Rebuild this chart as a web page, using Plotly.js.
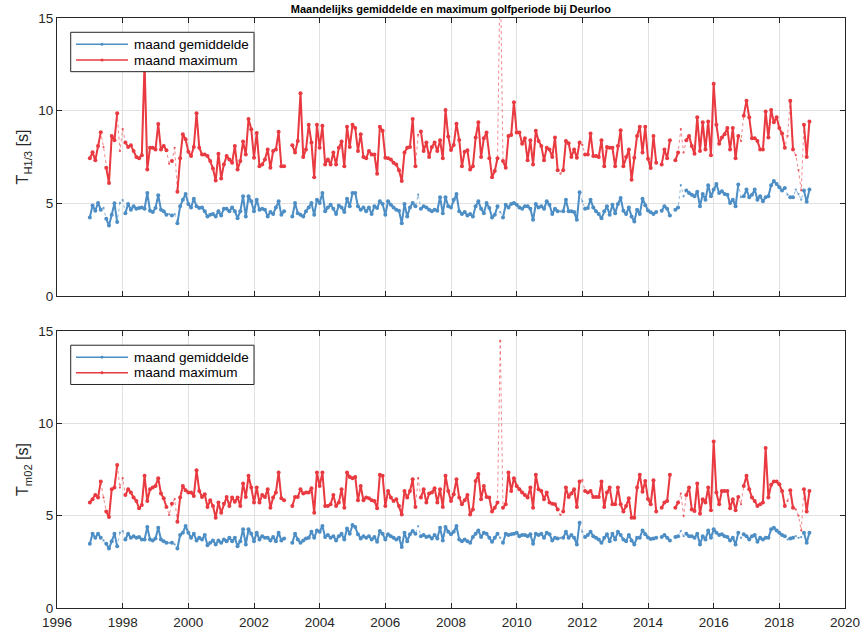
<!DOCTYPE html>
<html>
<head>
<meta charset="utf-8">
<script src="https://cdn.plot.ly/plotly-3.0.1.min.js"></script>
<style>html,body{margin:0;padding:0;background:#fff;}#chart{width:863px;height:631px;}</style>
</head>
<body>
<div id="chart"></div>
<script>
// Monthly series, Jan 1997 .. Dec 2018 (null = no data)
const startYear = 1997;

const hsMean = [4.24,4.89,4.6,5.02,4.66,4.75,4.17,3.8,4.38,5.0,3.99,5.02,5.18,4.47,4.96,4.66,4.84,4.71,4.75,4.78,
4.71,5.56,4.6,4.53,4.75,5.43,4.66,4.57,4.38,4.42,4.35,4.42,3.93,4.84,5.2,5.5,4.96,4.78,5.25,4.84,
4.75,4.78,4.57,4.29,4.38,4.42,4.29,4.57,4.35,4.71,4.71,4.57,4.78,4.57,4.2,4.57,5.38,4.29,5.38,5.11,
4.57,5.2,4.66,4.71,4.66,4.29,4.53,4.42,4.78,5.11,4.38,4.57,null,null,4.29,5.02,4.47,4.38,4.29,4.57,
4.78,5.02,4.38,5.2,5.02,5.56,4.57,4.78,4.93,4.71,4.42,4.89,4.78,4.53,5.25,4.84,5.56,5.56,4.84,4.66,
4.78,4.57,4.78,4.42,4.84,4.75,5.11,4.96,4.38,5.11,4.93,4.78,4.66,4.6,3.93,4.96,4.29,4.78,5.02,4.84,
5.47,4.71,4.84,4.78,4.66,4.57,4.66,4.6,5.33,4.47,5.33,4.84,4.78,5.2,5.5,4.57,4.42,4.53,4.35,4.42,
4.29,4.84,5.11,4.71,4.47,5.02,4.75,4.24,4.38,4.84,4.53,4.24,4.93,4.78,4.96,5.02,4.93,4.78,4.71,4.84,
4.84,4.71,4.11,4.96,4.78,4.84,4.71,5.11,4.93,4.42,4.71,4.57,4.57,4.57,5.2,4.57,4.57,4.53,4.11,5.6,
5.11,4.71,4.75,5.2,4.78,4.57,4.42,4.2,4.57,4.84,4.38,4.93,4.47,4.96,5.29,4.6,4.42,4.78,4.29,4.02,
4.66,4.42,5.25,4.9,4.62,4.52,4.42,4.53,null,4.6,4.84,4.71,4.35,null,4.66,4.78,5.98,5.38,5.69,5.56,
5.47,5.38,5.62,4.84,5.5,5.2,5.98,5.38,5.74,6.05,5.56,5.65,5.5,5.47,5.02,5.2,4.84,6.01,5.33,5.38,
5.74,5.33,5.47,5.74,5.2,5.38,5.11,5.33,5.38,5.98,6.2,6.05,5.87,5.69,5.83,5.47,5.33,5.33,5.74,5.5,
5.2,5.69,5.08,5.74];

const hsMax = [7.43,7.75,7.32,8.1,8.84,8.04,6.92,6.1,8.64,8.4,9.86,7.83,9.0,8.28,8.04,8.13,7.83,7.5,7.43,7.6,
12.6,6.83,8.0,8.0,7.9,9.28,7.9,8.1,7.86,7.14,7.28,8.0,5.62,7.43,8.73,8.46,7.79,7.55,8.04,9.86,
8.0,7.64,7.64,7.55,7.28,6.88,6.23,7.68,6.34,7.1,7.55,7.37,7.19,8.1,6.83,7.28,8.33,7.64,9.55,9.0,
7.46,8.8,7.0,7.1,7.37,7.9,6.92,7.83,7.9,8.86,7.0,7.0,null,null,8.13,7.74,8.37,10.94,7.5,7.9,
9.24,8.28,6.41,9.24,8.0,9.18,7.1,7.37,7.1,7.74,7.1,8.0,8.33,7.0,9.13,8.04,9.24,9.06,7.83,8.73,
7.5,7.43,7.83,7.64,7.64,6.59,9.13,8.91,7.46,7.43,7.37,7.19,7.1,6.78,6.2,7.74,8.0,8.04,9.55,7.0,
8.7,8.88,7.83,8.28,7.5,8.04,8.28,7.83,8.4,7.43,10.04,8.6,7.88,8.15,9.3,8.42,7.0,7.79,7.86,6.83,
7.0,8.55,9.37,7.5,8.51,8.82,7.43,6.41,6.74,7.43,18,7.28,6.92,8.64,8.69,10.46,8.82,8.82,8.22,8.51,
7.32,8.4,7.1,8.91,8.37,8.1,7.32,8.0,7.9,7.5,8.55,6.78,6.6,6.78,8.37,8.24,7.5,7.9,7.46,8.28,
8.15,7.64,7.64,8.77,7.55,7.55,7.5,8.4,7.0,8.04,8.0,8.0,7.0,8.1,8.95,7.0,7.5,7.9,6.27,7.46,
8.64,9.13,7.74,9.13,7.4,6.9,8.64,7.19,null,7.1,7.9,7.43,8.4,null,7.32,7.74,9.0,7.74,8.4,8.64,
8.1,7.68,9.64,7.83,9.37,7.9,9.42,7.6,11.45,9.24,8.22,8.55,8.73,9.06,7.9,9.06,7.43,8.64,8.37,9.73,
10.54,9.64,8.51,8.51,8.37,7.9,7.9,9.96,8.55,10.04,9.37,9.64,9.06,8.77,8.0,8.64,10.54,7.9,7.6,6.8,
5.7,9.24,7.5,9.42];

const tmMean = [3.48,4.02,3.8,4.02,3.8,3.66,3.48,3.22,3.62,4.02,3.35,4.08,4.17,3.71,4.02,3.8,3.89,3.8,3.84,3.71,
3.71,4.38,3.71,3.66,3.77,4.35,3.71,3.62,3.53,3.53,3.53,3.44,3.22,3.95,4.08,4.44,4.08,3.8,4.02,3.66,
3.8,3.71,3.95,3.4,3.53,3.66,3.44,3.66,3.53,3.71,3.62,3.8,3.62,3.8,3.35,3.62,4.26,3.44,4.26,4.02,
3.62,4.08,3.71,3.89,3.8,3.8,3.66,3.84,3.62,4.08,3.66,3.77,null,null,3.53,4.02,3.71,3.53,3.66,3.77,
3.8,4.13,3.8,4.2,4.13,4.44,3.84,3.95,3.8,3.89,3.66,3.89,4.02,3.71,4.31,4.02,4.49,4.38,3.99,3.77,
3.89,3.8,3.89,3.71,3.84,3.59,4.17,4.02,3.71,3.99,3.89,3.8,3.71,3.8,3.3,4.08,3.62,3.99,4.17,4.02,
4.44,3.89,3.95,3.84,3.89,3.77,3.95,3.77,4.35,3.66,4.38,4.13,3.99,4.13,4.44,3.71,3.62,3.71,3.62,3.53,
3.84,4.02,4.2,3.84,4.08,4.02,3.8,3.59,3.8,4.02,3.8,3.53,4.02,3.95,3.99,4.02,4.08,3.89,3.95,3.95,
3.89,3.99,3.48,4.02,3.95,4.02,3.8,4.08,3.99,3.66,3.8,3.77,3.8,3.8,4.13,3.8,3.95,3.8,3.44,4.62,
4.13,3.84,3.95,4.13,3.89,3.8,3.71,3.53,3.8,3.99,3.62,4.02,3.71,4.13,3.95,3.71,3.62,3.95,3.66,3.44,
3.8,3.8,4.2,3.99,3.82,3.74,3.77,3.8,null,3.84,3.95,3.8,3.66,null,3.84,3.89,4.17,3.89,4.02,3.89,
3.89,3.8,4.02,3.44,3.89,3.71,4.2,3.8,4.26,4.08,3.95,3.99,3.89,3.84,3.66,3.8,3.44,4.08,3.8,3.99,
3.89,3.71,3.89,3.95,3.59,3.8,3.71,3.8,3.8,4.26,4.35,4.2,4.08,3.95,3.89,3.71,3.77,3.8,3.89,3.8,
3.84,4.08,3.53,4.08];

const tmMax = [5.71,5.89,6.12,5.98,6.85,5.98,5.22,4.93,6.43,6.52,7.75,6.52,7.03,6.12,6.43,6.25,5.98,5.8,5.4,5.58,
7.16,5.8,6.43,6.52,6.61,7.03,6.2,5.94,5.47,5.04,5.65,5.89,4.67,5.98,6.61,6.38,6.25,6.25,6.07,7.46,
6.34,6.01,6.16,5.47,5.83,5.53,4.89,5.71,5.16,5.65,6.01,5.53,5.98,5.76,5.98,5.53,6.74,6.01,7.16,6.52,
5.71,6.52,5.71,6.12,6.01,6.43,5.43,5.98,6.25,7.34,5.94,5.83,null,null,5.53,6.01,6.01,6.43,6.2,6.25,
6.25,6.49,5.16,7.34,6.61,7.34,5.53,5.53,5.62,6.12,5.53,5.71,6.43,5.43,7.34,7.1,7.03,7.1,5.83,6.61,
5.83,5.98,5.94,5.83,5.8,5.4,7.21,7.16,5.53,6.34,5.98,5.8,5.89,5.53,5.07,6.34,5.98,6.34,6.97,5.47,
7.03,5.98,6.43,5.71,6.2,6.25,6.49,5.71,6.43,5.47,7.16,6.34,5.8,6.16,6.97,5.98,5.62,5.83,6.12,5.07,
5.34,6.88,7.25,5.89,6.61,6.01,5.98,5.22,5.43,5.71,14.46,5.43,5.62,7.34,6.34,7.03,6.61,6.43,6.25,6.12,
5.98,6.52,5.43,7.21,6.43,6.34,5.89,6.25,5.71,5.65,5.62,5.34,5.04,5.22,6.52,6.01,6.2,6.43,5.47,6.85,
6.92,6.34,6.25,6.34,6.01,6.01,6.01,6.85,5.47,6.25,6.52,5.62,5.62,6.52,5.62,5.22,5.53,5.94,4.89,4.89,
6.52,7.21,6.3,6.88,5.9,5.62,6.92,5.22,null,5.43,5.71,5.8,7.21,null,5.43,5.71,6.2,4.98,6.12,6.52,
5.34,5.25,6.74,5.11,5.89,5.71,6.52,5.29,9.02,6.25,5.62,6.34,6.34,6.34,5.4,5.89,5.29,6.01,5.62,6.61,
7.16,6.43,5.98,5.8,5.53,5.62,5.71,8.66,5.98,6.67,6.85,6.85,6.7,6.34,5.53,5.8,6.38,5.43,5.34,5.0,
4.2,6.43,5.22,6.34];

// months with incomplete data (drawn only with the dotted line)
const dottedMonths = [5,11,12,29,31,120,150,172,180,216,217,238,255,258,259,260];

const legendNames = ['maand gemiddelde', 'maand maximum'];
const xTicks = [1996,1998,2000,2002,2004,2006,2008,2010,2012,2014,2016,2018,2020];

const BLUE = 'rgb(77,142,197)';
const RED = 'rgb(232,58,64)';
const AX = '#262626';
const FONT = 'Liberation Sans, Arial, sans-serif';

const xs = hsMean.map((_, i) => startYear + i / 12);
const solid = arr => arr.map((v, i) => dottedMonths.includes(i) ? null : v);

function pair(y, color, xa, ya) {
  return [
    {x: xs, y: y, xaxis: xa, yaxis: ya, mode: 'lines+markers', connectgaps: false,
     line: {color: color, width: 0.7, dash: 'dot'}, marker: {color: color, size: 2.2},
     opacity: 0.85, showlegend: false, hoverinfo: 'skip'},
    {x: xs, y: solid(y), xaxis: xa, yaxis: ya, mode: 'lines+markers', connectgaps: false,
     showlegend: false, line: {color: color, width: 2}, marker: {color: color, size: 4}}
  ];
}

const traces = [].concat(
  pair(hsMean, BLUE, 'x', 'y'),
  pair(hsMax, RED, 'x', 'y'),
  pair(tmMean, BLUE, 'x2', 'y2'),
  pair(tmMax, RED, 'x2', 'y2')
);

const common = {
  showline: true, linecolor: AX, linewidth: 1, mirror: 'ticks',
  ticks: 'inside', ticklen: 5, tickcolor: AX, tickwidth: 1,
  showgrid: true, gridcolor: '#e1e1e1', gridwidth: 1, zeroline: false,
  tickfont: {family: FONT, size: 13.5, color: AX}
};
const xax = (anchor, labels) => Object.assign({}, common, {
  anchor: anchor, range: [1996, 2020], tickmode: 'array', tickvals: xTicks,
  ticktext: xTicks.map(String), showticklabels: labels, domain: [0, 1],
  ticklabelstandoff: 2
});
const yax = (anchor, dom, title) => Object.assign({}, common, {
  anchor: anchor, range: [0, 15], tickmode: 'array', tickvals: [0, 5, 10, 15],
  domain: dom, title: {text: title, font: {family: FONT, size: 16, color: AX}, standoff: 5}
});

// Legend boxes (drawn in each panel's domain coordinates)
const shapes = [];
const annotations = [];
function legendBox(yref) {
  const x0 = 0.0174, x1 = 0.25, top = 0.9486, bottom = 0.8069;
  shapes.push({type: 'rect', xref: 'x domain', yref: yref, x0: x0, x1: x1, y0: bottom, y1: top,
    line: {color: AX, width: 1}, fillcolor: '#ffffff', layer: 'above'});
  const rows = [0.9054, 0.8489];
  [BLUE, RED].forEach((c, k) => {
    const yy = rows[k];
    shapes.push({type: 'line', xref: 'x domain', yref: yref, x0: 0.0241, x1: 0.0901, y0: yy, y1: yy,
      line: {color: c, width: 1.5}, layer: 'above'});
    shapes.push({type: 'circle', xref: 'x domain', yref: yref, x0: 0.0571 - 0.0019, x1: 0.0571 + 0.0019,
      y0: yy - 0.0054, y1: yy + 0.0054, line: {color: c, width: 0}, fillcolor: c, layer: 'above'});
    annotations.push({xref: 'x domain', yref: yref, x: 0.0948, y: yy, xanchor: 'left', yanchor: 'middle',
      text: legendNames[k], showarrow: false, font: {family: FONT, size: 13.5, color: '#000'}});
  });
}
legendBox('y domain');
legendBox('y2 domain');

const layout = {
  width: 863, height: 631,
  margin: {l: 57, r: 18, t: 18, b: 23},
  paper_bgcolor: '#fff', plot_bgcolor: '#fff',
  title: {text: '<b>Maandelijks gemiddelde en maximum golfperiode bij Deurloo</b>',
    font: {family: 'Liberation Sans Narrow, Arial Narrow, Liberation Sans, sans-serif', size: 11, color: '#000'},
    x: 0.5225, xref: 'container', y: 0.985, yref: 'container', yanchor: 'middle'},
  xaxis: xax('y', false),
  yaxis: yax('x', [0.5288, 1], 'T<sub>H1/3</sub> [s]'),
  xaxis2: xax('y2', true),
  yaxis2: yax('x2', [0, 0.4695], 'T<sub>m02</sub> [s]'),
  shapes: shapes,
  annotations: annotations,
  showlegend: false
};

Plotly.newPlot('chart', traces, layout, {displayModeBar: false, staticPlot: true});
</script>
</body>
</html>
